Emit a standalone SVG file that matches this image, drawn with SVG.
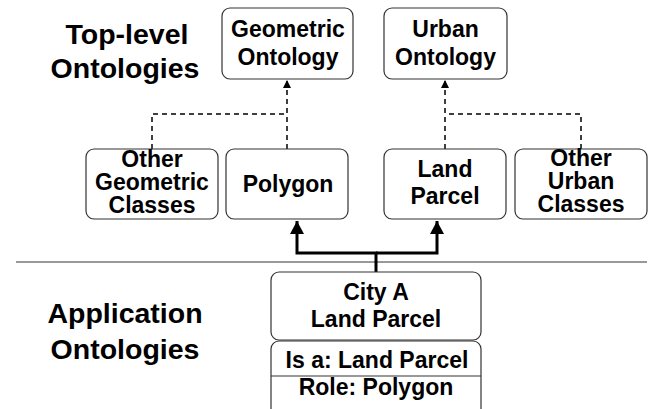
<svg xmlns="http://www.w3.org/2000/svg" width="649" height="409" viewBox="0 0 649 409">
<defs>
<style>
.box{fill:#fff;stroke:#333;stroke-width:1.2}
.t{font-family:"Liberation Sans",Arial,sans-serif;font-weight:bold;font-size:23px;text-anchor:middle;fill:#000}
.big{font-family:"Liberation Sans",Arial,sans-serif;font-weight:bold;font-size:28.5px;text-anchor:middle;fill:#000}
.dash{fill:none;stroke:#000;stroke-width:1.5;stroke-dasharray:5,4}
.thick{fill:none;stroke:#000;stroke-width:3}
</style>
<marker id="sm" viewBox="0 0 10 10" refX="10" refY="5" markerWidth="8" markerHeight="8" markerUnits="userSpaceOnUse" orient="auto"><path d="M0,0 L10,5 L0,10 Z" fill="#000"/></marker>
<marker id="lg" viewBox="0 0 10 10" refX="10" refY="5" markerWidth="13" markerHeight="14" markerUnits="userSpaceOnUse" orient="auto" preserveAspectRatio="none"><path d="M0,0 L10,5 L0,10 Z" fill="#000"/></marker>
</defs>
<rect width="649" height="409" fill="#fff"/>
<g id="labels">
<text class="big" x="127" y="44">Top-level</text>
<text class="big" x="125" y="78">Ontologies</text>
<text class="big" x="125" y="323">Application</text>
<text class="big" x="125" y="359">Ontologies</text>
</g>
<line x1="16" y1="262" x2="647" y2="262" stroke="#777" stroke-width="1.5"/>
<g id="connectors">
<path class="dash" d="M287,149 V80" marker-end="url(#sm)"/>
<path class="dash" d="M152,149 V114 H287"/>
<path class="dash" d="M445,149 V80" marker-end="url(#sm)"/>
<path class="dash" d="M581,149 V114 H445"/>
<path class="thick" d="M376,272 V253 H297 V221" marker-end="url(#lg)"/>
<path class="thick" d="M376,253 H437 V221" marker-end="url(#lg)"/>
</g>
<g id="geometric-ontology">
<rect class="box" x="222" y="8" width="131" height="71" rx="8"/>
<text class="t" x="288" y="37">Geometric</text>
<text class="t" x="288" y="65">Ontology</text>
</g>
<g id="urban-ontology">
<rect class="box" x="384" y="8" width="123" height="71" rx="8"/>
<text class="t" x="445.5" y="37">Urban</text>
<text class="t" x="445.5" y="65">Ontology</text>
</g>
<g id="other-geometric">
<rect class="box" x="86" y="149" width="132" height="70" rx="8"/>
<text class="t" x="152" y="167">Other</text>
<text class="t" x="152" y="190">Geometric</text>
<text class="t" x="152" y="213">Classes</text>
</g>
<g id="polygon">
<rect class="box" x="226" y="149" width="122" height="70" rx="8"/>
<text class="t" x="288" y="192">Polygon</text>
</g>
<g id="land-parcel">
<rect class="box" x="384" y="149" width="122" height="70" rx="8"/>
<text class="t" x="445" y="177">Land</text>
<text class="t" x="445" y="204">Parcel</text>
</g>
<g id="other-urban">
<rect class="box" x="515" y="149" width="132" height="70" rx="8"/>
<text class="t" x="581" y="166">Other</text>
<text class="t" x="581" y="189">Urban</text>
<text class="t" x="581" y="212">Classes</text>
</g>
<g id="city-a-land-parcel">
<rect class="box" x="271" y="272" width="210" height="68" rx="8"/>
<text class="t" x="376" y="300">City A</text>
<text class="t" x="376" y="327">Land Parcel</text>
<rect class="box" x="271" y="341" width="210" height="80" rx="8"/>
<line x1="271" y1="376" x2="481" y2="376" stroke="#333" stroke-width="1.2"/>
<text class="t" x="377" y="368">Is a: Land Parcel</text>
<text class="t" x="376" y="395">Role: Polygon</text>
</g>
</svg>
